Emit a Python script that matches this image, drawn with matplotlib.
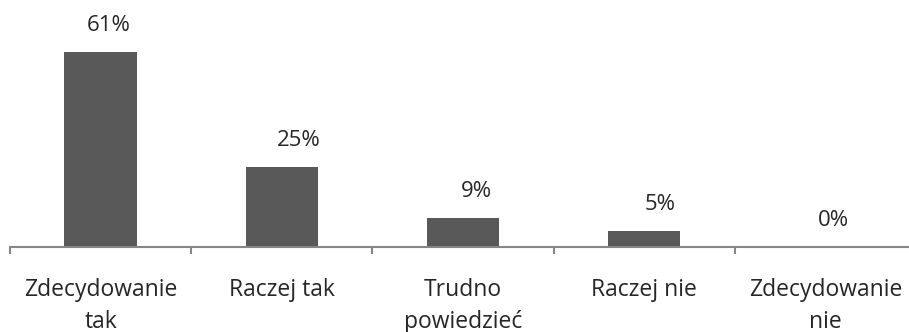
import matplotlib
matplotlib.use("Agg")
import matplotlib.pyplot as plt

categories = ["Zdecydowanie\ntak", "Raczej tak", "Trudno\npowiedzieć", "Raczej nie", "Zdecydowanie\nnie"]
values = [61, 25, 9, 5, 0]
value_labels = ["61%", "25%", "9%", "5%", "0%"]

# horizontal nudges of the value labels (pixels)
label_dx = [8.5, 17, 13.5, 16, 8.5]

plt.rcParams["font.family"] = ["Open Sans", "DejaVu Sans"]

W, H = 909, 332
fig = plt.figure(figsize=(W / 100, H / 100), dpi=100)
left, right = 10, 916
base, top = 247, 23
ax = fig.add_axes([left / W, (H - base) / H, (right - left) / W, (base - top) / H])

x = list(range(len(categories)))
ax.bar(x, values, width=0.4, color="#595959")
ax.set_xlim(-0.5, len(categories) - 0.5)
ax.set_ylim(0, 70)

pt = 72 / 100
for xi, v, lab, dx in zip(x, values, value_labels, label_dx):
    ax.annotate(lab, (xi, v), xytext=(dx * pt, 21 * pt), textcoords="offset points",
                ha="center", va="baseline", fontsize=16, color="#262626")

for s in ["top", "right", "left"]:
    ax.spines[s].set_visible(False)
ax.spines["bottom"].set_color("#868686")
ax.spines["bottom"].set_linewidth(1.5)
ax.set_yticks([])

# category labels centred on bars, tick marks between categories
ax.set_xticks(x)
ax.set_xticklabels(categories, fontsize=16.5, color="#262626", linespacing=1.45)
ax.tick_params(axis="x", which="major", length=0, pad=22)
ax.set_xticks([i - 0.5 for i in range(len(categories) + 1)], minor=True)
ax.tick_params(axis="x", which="minor", length=5, width=1.5, color="#868686")

fig.savefig("out.png", dpi=100)
